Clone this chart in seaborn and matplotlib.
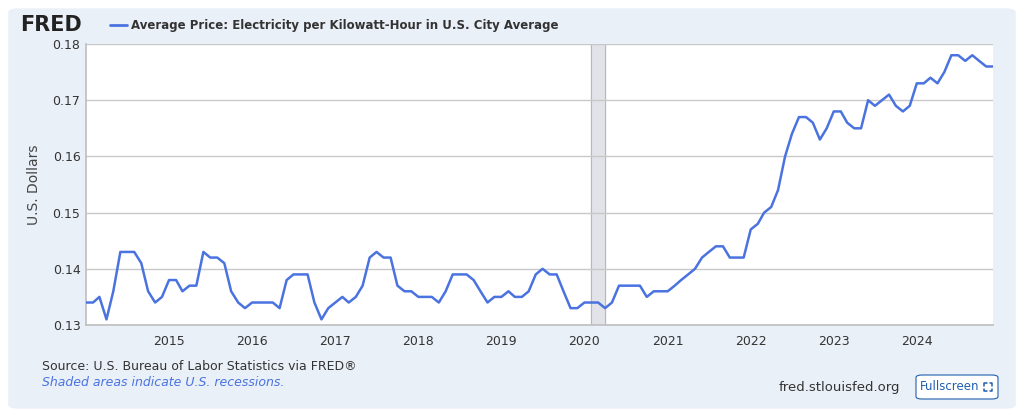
import matplotlib
matplotlib.use("Agg")
import matplotlib.pyplot as plt
import seaborn as sns
import pandas as pd
from matplotlib.patches import FancyBboxPatch

start = "2014-01-01"
values = [
    .134,.134,.135,.131,.136,.143,.143,.143,.141,.136,.134,.135,
    .138,.138,.136,.137,.137,.143,.142,.142,.141,.136,.134,.133,
    .134,.134,.134,.134,.133,.138,.139,.139,.139,.134,.131,.133,
    .134,.135,.134,.135,.137,.142,.143,.142,.142,.137,.136,.136,
    .135,.135,.135,.134,.136,.139,.139,.139,.138,.136,.134,.135,
    .135,.136,.135,.135,.136,.139,.140,.139,.139,.136,.133,.133,
    .134,.134,.134,.133,.134,.137,.137,.137,.137,.135,.136,.136,
    .136,.137,.138,.139,.140,.142,.143,.144,.144,.142,.142,.142,
    .147,.148,.150,.151,.154,.160,.164,.167,.167,.166,.163,.165,
    .168,.168,.166,.165,.165,.170,.169,.170,.171,.169,.168,.169,
    .173,.173,.174,.173,.175,.178,.178,.177,.178,.177,.176,.176,
]
yticks = [0.13, 0.14, 0.15, 0.16, 0.17, 0.18]
year_ticks = list(range(2015, 2025))
recession = ("2020-02-01", "2020-04-01")

df = pd.DataFrame({"date": pd.date_range(start, periods=len(values), freq="MS"), "value": values})

sns.set_theme(style="white")
fig = plt.figure(figsize=(10.24, 4.17), dpi=100)
fig.patch.set_facecolor("white")
bg = FancyBboxPatch((0.008, 0.02), 0.984, 0.96, boxstyle="round,pad=0,rounding_size=0.01",
                    transform=fig.transFigure, facecolor="#eaf0f8", edgecolor="none", zorder=-2)
fig.add_artist(bg)
ax = fig.add_axes([86/1024, 1-325/417, (993-86)/1024, (325-44)/417])
ax.set_facecolor("white")
ax.axvspan(pd.Timestamp(recession[0]), pd.Timestamp(recession[1]), color="#e1e3e8", zorder=0)
for d in recession:
    ax.axvline(pd.Timestamp(d), color="#b8b8b8", lw=0.8, zorder=0)
sns.lineplot(data=df, x="date", y="value", ax=ax, color="#4a73e0", lw=1.8, zorder=3)
ax.set_ylim(0.13, 0.18)
ax.set_xlim(df["date"].iloc[0], df["date"].iloc[-1])
ax.set_yticks(yticks)
ax.set_yticklabels([f"{v:.2f}" for v in yticks], fontsize=9, color="#333333")
ax.set_xticks([pd.Timestamp(f"{y}-01-01") for y in year_ticks])
ax.set_xticklabels([str(y) for y in year_ticks], fontsize=9, color="#333333")
ax.tick_params(axis="x", length=5, color="#c0c0c0", pad=2)
ax.tick_params(axis="y", length=0, pad=4)
ax.grid(axis="y", color="#c8c8c8", lw=1)
for s in ["top", "right"]:
    ax.spines[s].set_visible(False)
ax.spines["left"].set_color("#c0c0c0")
ax.spines["bottom"].set_color("#c0c0c0")
ax.set_xlabel("")
ax.set_ylabel("U.S. Dollars", fontsize=10, color="#444444", labelpad=8)

fig.text(20/1024, 1-25/417, "FRED", fontsize=15, fontweight="bold", color="#222222", va="center")
fig.lines.append(plt.Line2D([110/1024, 127/1024], [1-25/417]*2, color="#4a73e0", lw=2, transform=fig.transFigure))
fig.text(131/1024, 1-25/417, "Average Price: Electricity per Kilowatt-Hour in U.S. City Average",
         fontsize=8.5, fontweight="bold", color="#333333", va="center")
fig.text(42/1024, 1-366/417, "Source: U.S. Bureau of Labor Statistics via FRED®", fontsize=9, color="#333333", va="center")
fig.text(42/1024, 1-383/417, "Shaded areas indicate U.S. recessions.", fontsize=9, color="#4a73e0",
         style="italic", va="center")
fig.text(900/1024, 1-388/417, "fred.stlouisfed.org", fontsize=9.5, color="#333333", va="center", ha="right")
fig.add_artist(FancyBboxPatch((916/1024, 1-399/417), 82/1024, 24/417,
                              boxstyle="round,pad=0,rounding_size=0.006", transform=fig.transFigure,
                              facecolor="white", edgecolor="#1f5fae", lw=0.8))
fig.text(920/1024, 1-387/417, "Fullscreen", fontsize=8.5, color="#1f5fae", va="center", ha="left")
cx, cy, h, a = 988, 387, 4, 2.5
for sx in (-1, 1):
    for sy in (-1, 1):
        x0, y0 = cx + sx*h, cy + sy*h
        xs = [x0 - sx*a, x0, x0]
        ys = [y0, y0, y0 - sy*a]
        fig.lines.append(plt.Line2D([v/1024 for v in xs], [1 - v/417 for v in ys],
                                    color="#1f5fae", lw=1.1, transform=fig.transFigure))
fig.savefig("out.png", dpi=100)
